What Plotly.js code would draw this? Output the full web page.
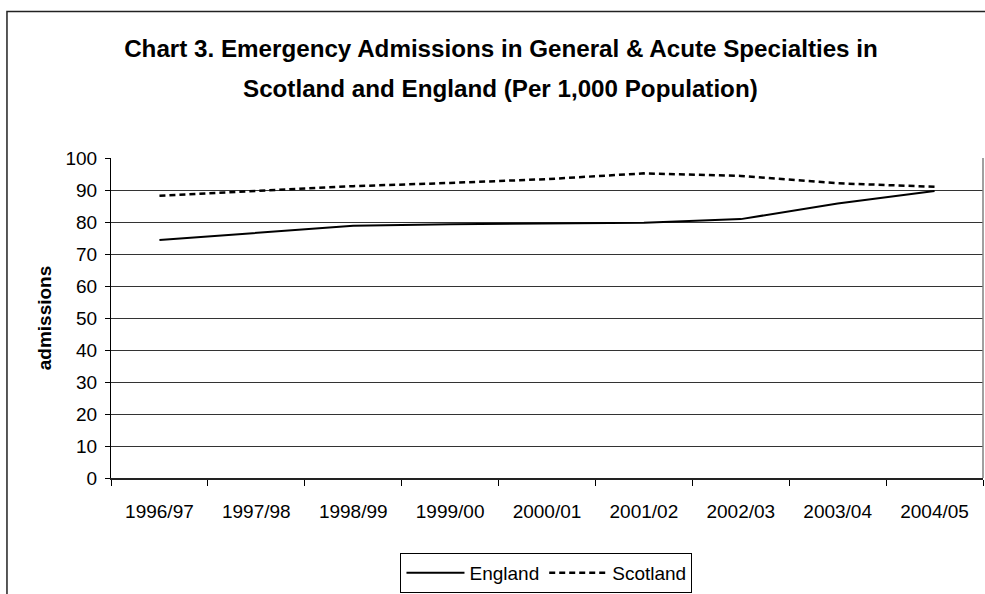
<!DOCTYPE html>
<html>
<head>
<meta charset="utf-8">
<script src="https://cdn.plot.ly/plotly-3.0.1.min.js"></script>
<style>
  html, body { margin: 0; padding: 0; background: #fff; }
  #chart { width: 985px; height: 594px; }
</style>
</head>
<body>
<div id="chart"></div>
<script>
// Financial years on the category axis
const years = ['1996/97', '1997/98', '1998/99', '1999/00', '2000/01', '2001/02', '2002/03', '2003/04', '2004/05'];

// Emergency admissions per 1,000 population
const england  = [74.4, 76.6, 78.8, 79.3, 79.6, 79.8, 80.9, 85.8, 89.7];
const scotland = [88.2, 89.7, 91.2, 92.2, 93.4, 95.2, 94.4, 92.1, 91.0];

// Value axis ticks
const yTicks = [0, 10, 20, 30, 40, 50, 60, 70, 80, 90, 100];

// Chart heading, two lines
const titleLine1 = 'Chart 3. Emergency Admissions in General & Acute Specialties in';
const titleLine2 = 'Scotland and England (Per 1,000 Population)';

const FONT = '"Liberation Sans", Arial, sans-serif';
const titleFont = { family: FONT, size: 24.2, color: '#000000', weight: 'bold' };

const traces = [
  {
    type: 'scatter', mode: 'lines', name: 'England',
    x: years, y: england,
    line: { color: '#000000', width: 2 }
  },
  {
    type: 'scatter', mode: 'lines', name: 'Scotland',
    x: years, y: scotland,
    line: { color: '#000000', width: 2.5, dash: '6px,4px' }
  }
];

const layout = {
  width: 985, height: 594,
  margin: { l: 111, r: 2, t: 158, b: 115 },
  paper_bgcolor: '#ffffff',
  plot_bgcolor: '#ffffff',
  font: { family: FONT, size: 19, color: '#000000' },
  showlegend: true,
  title: {
    text: titleLine1,
    font: titleFont,
    x: 0.5086, xanchor: 'center', xref: 'container',
    y: 0.919, yanchor: 'middle', yref: 'container'
  },
  annotations: [
    {
      text: titleLine2, showarrow: false,
      xref: 'paper', yref: 'paper',
      x: 0.447, xanchor: 'center',
      y: 1.218, yanchor: 'middle',
      font: titleFont
    }
  ],
  xaxis: {
    type: 'category',
    range: [-0.5, years.length - 0.5],
    tickson: 'boundaries',
    ticks: 'outside', ticklen: 6, tickcolor: '#000000', tickwidth: 1,
    ticklabelstandoff: 16,
    showline: true, linecolor: '#222222', linewidth: 1.5,
    showgrid: false, zeroline: false,
    tickfont: { family: FONT, size: 19, color: '#000000' }
  },
  yaxis: {
    range: [0, 100],
    tickvals: yTicks,
    ticktext: yTicks.map(String),
    ticks: 'outside', ticklen: 5, tickcolor: '#000000', tickwidth: 1,
    ticklabelstandoff: 4,
    showline: true, linecolor: '#000000', linewidth: 1,
    showgrid: true, gridcolor: '#333333', gridwidth: 1,
    zeroline: false,
    tickfont: { family: FONT, size: 19, color: '#000000' },
    title: {
      text: 'admissions',
      font: { family: FONT, size: 19, color: '#000000', weight: 'bold' },
      standoff: 8
    }
  },
  legend: {
    orientation: 'h',
    x: 0.4994, xanchor: 'center',
    y: -0.2305, yanchor: 'top',
    bgcolor: '#ffffff',
    bordercolor: '#000000', borderwidth: 1,
    font: { family: FONT, size: 19, color: '#000000' },
    itemwidth: 58
  },
  shapes: [
    // plot area border on the right
    { type: 'line', xref: 'paper', yref: 'paper', x0: 1, x1: 1, y0: 0, y1: 1,
      line: { color: '#808080', width: 1.5 } },
    // outer chart frame
    { type: 'rect', xref: 'paper', yref: 'paper',
      x0: -0.1193, x1: 1.014, y0: -0.38, y1: 1.458,
      line: { color: '#222222', width: 1.5 }, fillcolor: 'rgba(0,0,0,0)', layer: 'below' }
  ]
};

Plotly.newPlot('chart', traces, layout, { displayModeBar: false, staticPlot: true });
</script>
</body>
</html>
